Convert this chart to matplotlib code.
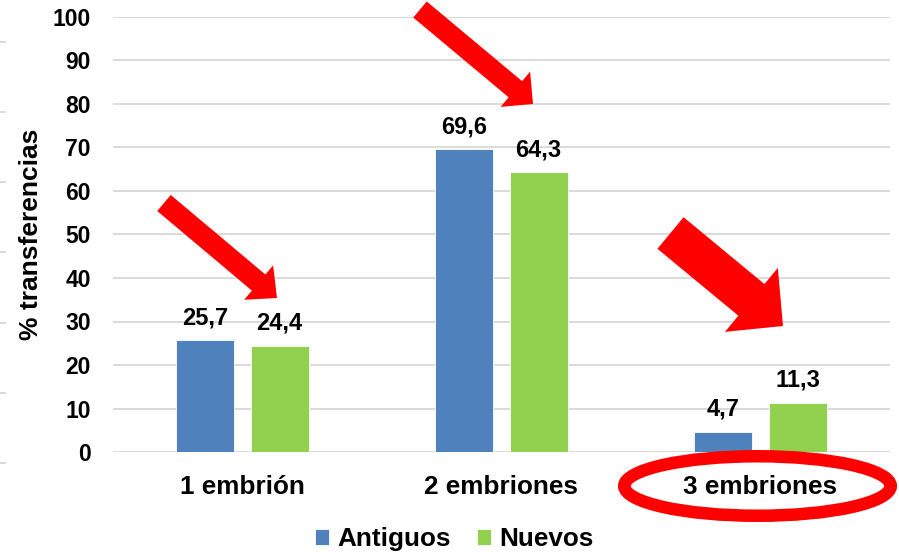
import numpy as np
import matplotlib
matplotlib.use("Agg")
import matplotlib.pyplot as plt
from matplotlib.patches import Polygon, Ellipse
from matplotlib.lines import Line2D

categories = ["1 embrión", "2 embriones", "3 embriones"]
antiguos = [25.7, 69.6, 4.7]
nuevos = [24.4, 64.3, 11.3]
series_names = ["Antiguos", "Nuevos"]
ylabel = "% transferencias"
yticks = list(range(0, 101, 10))

BLUE = "#4F81BD"
GREEN = "#92D050"
RED = "#FF0000"
GRID = "#D9D9D9"

plt.rcParams['font.family'] = ['Liberation Sans', 'DejaVu Sans']
plt.rcParams['font.weight'] = 'bold'

W, H = 899, 552
fig = plt.figure(figsize=(W / 100, H / 100), dpi=100)
ax = fig.add_axes([113 / W, 1 - 452 / H, (890 - 113) / W, (452 - 17) / H])

x = np.arange(len(categories))
bw = 0.224
off = 0.143
b1 = ax.bar(x - off, antiguos, bw, color=BLUE, label=series_names[0], zorder=3,
            edgecolor="white", linewidth=0.6)
b2 = ax.bar(x + off, nuevos, bw, color=GREEN, label=series_names[1], zorder=3,
            edgecolor="white", linewidth=0.6)

for bars, vals in ((b1, antiguos), (b2, nuevos)):
    for r, v in zip(bars, vals):
        ax.annotate(f"{v:.1f}".replace(".", ","),
                    (r.get_x() + r.get_width() / 2, v),
                    xytext=(0, 8), textcoords="offset points",
                    ha="center", va="bottom", fontsize=17, fontweight="bold")

ax.set_xlim(-0.5, len(categories) - 0.5)
ax.set_ylim(0, 100)
ax.set_yticks(yticks)
ax.set_yticklabels([str(t) for t in yticks], fontsize=16.5, fontweight="bold")
ax.set_xticks(x)
ax.set_xticklabels(categories, fontsize=18.8, fontweight="bold")
ax.tick_params(axis="y", length=0, pad=16)
ax.tick_params(axis="x", length=0, pad=16.5)
ax.grid(axis="y", color=GRID, linewidth=1.4, zorder=0)
for s in ax.spines.values():
    s.set_visible(False)
ax.set_ylabel(ylabel, fontsize=19, fontweight="bold", labelpad=7)

leg = fig.legend(handles=[b1, b2], labels=series_names, loc="center",
                 bbox_to_anchor=(454 / W, 1 - 539 / H), ncol=2, frameon=False,
                 fontsize=18.8, handlelength=0.55, handleheight=0.55,
                 handletextpad=0.3, columnspacing=1.0)

# decorative arrows (pixel coordinates of the image)
def arrow(tail, tip, w, hw, hl):
    t = np.array([tail[0], H - tail[1]], float)
    p = np.array([tip[0], H - tip[1]], float)
    u = (p - t) / np.linalg.norm(p - t)
    n = np.array([-u[1], u[0]])
    neck = p - u * hl
    pts = [t + n * w / 2, neck + n * w / 2, neck + n * hw / 2, p,
           neck - n * hw / 2, neck - n * w / 2, t - n * w / 2]
    fig.patches.append(Polygon(pts, closed=True, facecolor=RED, edgecolor="none",
                               transform=None, figure=fig, zorder=10))

arrow((164, 203), (277, 298), 21, 45, 24)
arrow((420, 9.5), (533, 104), 21, 46, 23)
arrow((670.5, 233), (783, 326), 41, 83, 41)

L = 12.5
fig.patches.append(Ellipse((757.5, H - 486), 279 - L, 72 - L, fill=False,
                           edgecolor=RED, linewidth=L * 0.72, transform=None,
                           figure=fig, zorder=10))

# small grey marks at left edge
for yy in [42, 112, 182, 252, 323, 393, 463]:
    fig.lines.append(Line2D([0, 5 / W], [1 - yy / H] * 2, color=GRID, linewidth=1.4,
                            transform=fig.transFigure, figure=fig))

fig.savefig("out.png", dpi=100)
